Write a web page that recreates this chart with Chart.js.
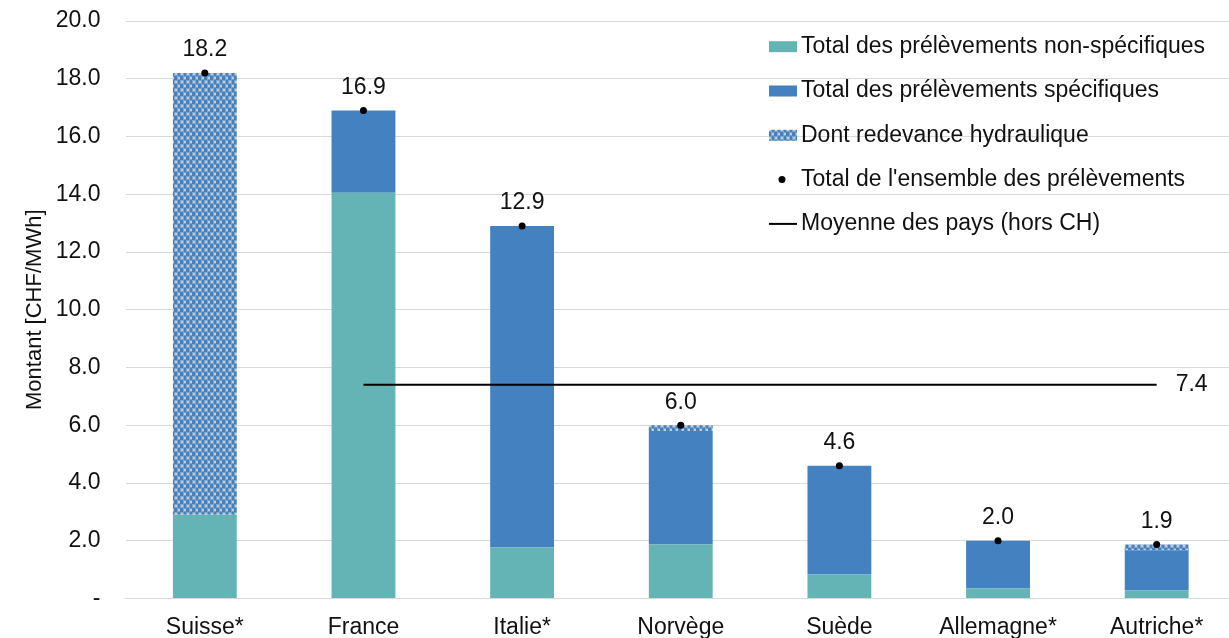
<!DOCTYPE html>
<html>
<head>
<meta charset="utf-8">
<script src="https://cdn.jsdelivr.net/npm/chart.js@4/dist/chart.umd.min.js"></script>
<style>
  html, body { margin: 0; padding: 0; background: #fff; overflow: hidden; }
  #wrap { width: 1229px; height: 638px; overflow: hidden; position: relative; }
  #box { width: 1240px; height: 638px; position: absolute; left: 0; top: 0; }
</style>
</head>
<body>
<div id="wrap"><div id="box"><canvas id="c"></canvas></div></div>
<script>
// Prélèvements par pays, en CHF/MWh
const countries   = ['Suisse*', 'France', 'Italie*', 'Norvège', 'Suède', 'Allemagne*', 'Autriche*'];
const nonSpecific = [2.9, 14.05, 1.77, 1.87, 0.83, 0.35, 0.28];
const specific    = [0, 2.85, 11.13, 3.93, 3.77, 1.65, 1.39];
const hydro       = [15.3, 0, 0, 0.2, 0, 0, 0.2];
const totals      = [18.2, 16.9, 12.9, 6.0, 4.6, 2.0, 1.87];
const averageValue = 7.4;
const average     = [null, averageValue, averageValue, averageValue, averageValue, averageValue, averageValue];
const yTickLabels = ['-', '2.0', '4.0', '6.0', '8.0', '10.0', '12.0', '14.0', '16.0', '18.0', '20.0'];
const seriesNames = [
  'Total des prélèvements non-spécifiques',
  'Total des prélèvements spécifiques',
  'Dont redevance hydraulique',
  "Total de l'ensemble des prélèvements",
  'Moyenne des pays (hors CH)'
];
const axisTitle = 'Montant [CHF/MWh]';

const FONT = '"Liberation Sans", Arial, sans-serif';
const TEXT_SIZE = 23;
const TEAL = '#64b4b5';
const BLUE = '#4381c1';

// dotted fill for the water-fee segment
function dottedPattern() {
  const t = document.createElement('canvas');
  t.width = 6; t.height = 8;
  const g = t.getContext('2d');
  g.fillStyle = BLUE; g.fillRect(0, 0, 6, 8);
  g.fillStyle = 'rgba(200,204,210,0.45)';
  g.fillRect(0, 0, 4, 4);
  g.fillRect(3, 4, 4, 4);
  g.fillStyle = '#c8ccd2';
  g.fillRect(1, 1, 2, 2);
  g.fillRect(4, 5, 2, 2);
  return g.createPattern(t, 'repeat');
}
const HYDRO_FILL = dottedPattern();

const overlay = {
  id: 'overlay',
  afterDatasetsDraw(chart) {
    const { ctx, scales: { x, y } } = chart;
    ctx.save();
    ctx.font = TEXT_SIZE + 'px ' + FONT;
    ctx.fillStyle = '#111';
    ctx.textBaseline = 'middle';

    // totals above each column
    ctx.textAlign = 'center';
    totals.forEach((v, i) => {
      ctx.fillText(v.toFixed(1), x.getPixelForValue(i), y.getPixelForValue(v) - 23);
    });

    // value of the average line at its right end
    ctx.textAlign = 'left';
    ctx.fillText(averageValue.toFixed(1), x.getPixelForValue(countries.length - 1) + 19, y.getPixelForValue(averageValue));

    // legend
    const ds = chart.data.datasets;
    const lx = 769, top = 46.7, step = 44.3;
    for (let i = 0; i < 5; i++) {
      const cy = top + i * step;
      if (i < 3) {
        ctx.fillStyle = ds[i].backgroundColor;
        ctx.fillRect(lx, cy - 5.5, 28, 11);
      } else if (i === 3) {
        ctx.fillStyle = '#000';
        ctx.beginPath(); ctx.arc(lx + 13, cy, 3.5, 0, Math.PI * 2); ctx.fill();
      } else {
        ctx.fillStyle = '#000';
        ctx.fillRect(lx, cy - 1, 28, 2);
      }
      ctx.fillStyle = '#111';
      ctx.fillText(seriesNames[i], lx + 32, cy);
    }
    ctx.restore();
  }
};

new Chart(document.getElementById('c'), {
  data: {
    labels: countries,
    datasets: [
      { type: 'bar', label: seriesNames[0], data: nonSpecific, backgroundColor: TEAL, order: 2 },
      { type: 'bar', label: seriesNames[1], data: specific, backgroundColor: BLUE, order: 2 },
      { type: 'bar', label: seriesNames[2], data: hydro, backgroundColor: HYDRO_FILL, order: 2 },
      { type: 'line', label: seriesNames[3], data: totals, stack: 'tot', showLine: false,
        pointRadius: 3.5, pointBackgroundColor: '#000', pointBorderWidth: 0, order: 0 },
      { type: 'line', label: seriesNames[4], data: average, stack: 'avg', borderColor: '#000',
        borderWidth: 2, pointRadius: 0, fill: false, order: 1 }
    ]
  },
  options: {
    responsive: true,
    maintainAspectRatio: false,
    animation: false,
    devicePixelRatio: 1,
    layout: { padding: { top: 21, right: 1.5, left: 0, bottom: 0 } },
    datasets: { bar: { barPercentage: 0.4025, categoryPercentage: 1 } },
    plugins: { legend: { display: false }, tooltip: { enabled: false } },
    scales: {
      x: {
        stacked: true,
        grid: { display: false },
        border: { display: true, color: '#d9d9d9', width: 1 },
        ticks: { color: '#111', font: { family: FONT, size: TEXT_SIZE }, padding: 7, maxRotation: 0 },
        afterFit(s) { s.height = 39.5; }
      },
      y: {
        stacked: true,
        min: 0, max: 20,
        grid: { color: '#d9d9d9', lineWidth: 1, drawTicks: false },
        border: { display: false },
        ticks: {
          stepSize: 2, padding: 25, color: '#111',
          font: { family: FONT, size: TEXT_SIZE },
          callback: (v, i) => yTickLabels[i]
        },
        title: {
          display: true, text: axisTitle, color: '#111',
          font: { family: FONT, size: 22 }, padding: { top: 22, bottom: 0 }
        },
        afterFit(s) {
          s.width = 125.5;
          s.paddingTop = 0;
          s.paddingBottom = 0;
        }
      }
    }
  },
  plugins: [overlay]
});
</script>
</body>
</html>
